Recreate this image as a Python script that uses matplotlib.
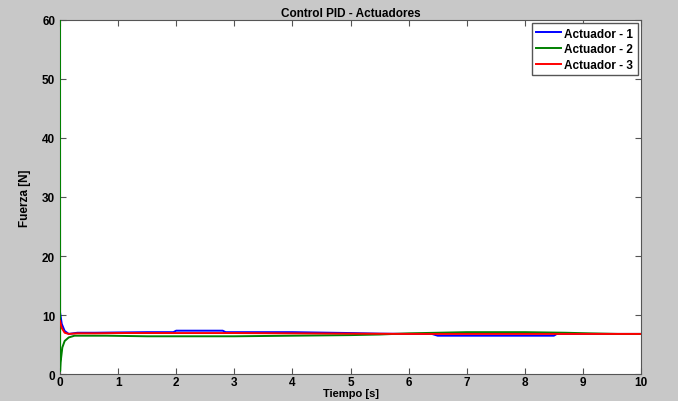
import numpy as np
import matplotlib
matplotlib.use("Agg")
import matplotlib.pyplot as plt

plt.rcParams["font.family"] = ["Liberation Sans", "DejaVu Sans"]
plt.rcParams["font.weight"] = "bold"

# valores (tiempo [s], fuerza [N])
t1 = [0.0, 0.03, 0.08, 0.15, 0.3, 0.6, 1.0, 1.5, 1.95, 2.0, 2.8, 2.85, 4.0, 5.0, 5.5, 6.0, 6.4, 6.5, 8.5, 8.55, 9.0, 9.5, 10.0]
f1 = [10.5, 8.5, 7.3, 6.8, 7.0, 7.0, 7.05, 7.1, 7.1, 7.35, 7.35, 7.1, 7.1, 6.95, 6.85, 6.8, 6.8, 6.5, 6.5, 6.8, 6.8, 6.8, 6.8]

t2 = [0.0, 0.002, 0.01, 0.04, 0.08, 0.15, 0.25, 0.4, 0.8, 1.5, 2.0, 3.0, 4.0, 5.0, 5.5, 6.0, 6.5, 7.0, 8.0, 8.7, 9.1, 9.6, 10.0]
f2 = [60.0, 0.5, 2.0, 4.5, 5.6, 6.2, 6.5, 6.5, 6.5, 6.4, 6.4, 6.4, 6.5, 6.6, 6.7, 6.9, 7.0, 7.1, 7.1, 7.0, 6.9, 6.8, 6.8]

t3 = [0.0, 0.03, 0.08, 0.15, 0.3, 0.6, 1.0, 2.0, 3.0, 4.0, 5.0, 6.0, 7.0, 8.0, 9.0, 9.5, 10.0]
f3 = [9.0, 7.8, 7.0, 6.8, 6.9, 6.9, 6.95, 6.95, 6.95, 6.9, 6.85, 6.8, 6.8, 6.8, 6.8, 6.8, 6.8]

fig = plt.figure(figsize=(6.78, 4.02), dpi=100, facecolor="#c8c8c8")
ax = fig.add_axes([0.0885, 0.067, 0.857, 0.881])

ax.plot(t1, f1, color="#0000ff", lw=1.4, label="Actuador - 1", zorder=3)
ax.plot(t2, f2, color="#008000", lw=1.4, label="Actuador - 2", zorder=3)
ax.plot(t3, f3, color="#ff0000", lw=1.4, label="Actuador - 3", zorder=3)

ax.set_xlim(0, 10)
ax.set_ylim(0, 60)
ax.set_xticks(range(0, 11))
ax.set_yticks(range(0, 61, 10))
ax.tick_params(direction="in", top=True, right=True, labelsize=8.5, length=4, width=0.8,
               colors="#555555", labelcolor="black")
ax.tick_params(axis="x", pad=1.5)
for s in ax.spines.values():
    s.set_color("#555555")

ax.set_title("Control PID - Actuadores", fontsize=8.5, fontweight="bold", pad=3)
ax.set_xlabel("Tiempo [s]", fontsize=8, fontweight="bold", labelpad=0)
ax.set_ylabel("Fuerza [N]", fontsize=8.5, fontweight="bold", labelpad=8)

leg = ax.legend(loc="upper right", fontsize=8.5, fancybox=False, framealpha=1,
                edgecolor="#555555", handlelength=2.1, handletextpad=0.3,
                borderpad=0.35, labelspacing=0.3, borderaxespad=0.3)
leg.get_frame().set_linewidth(1.0)
for txt in leg.get_texts():
    txt.set_fontweight("bold")

fig.savefig("out.png", dpi=100, facecolor=fig.get_facecolor())
